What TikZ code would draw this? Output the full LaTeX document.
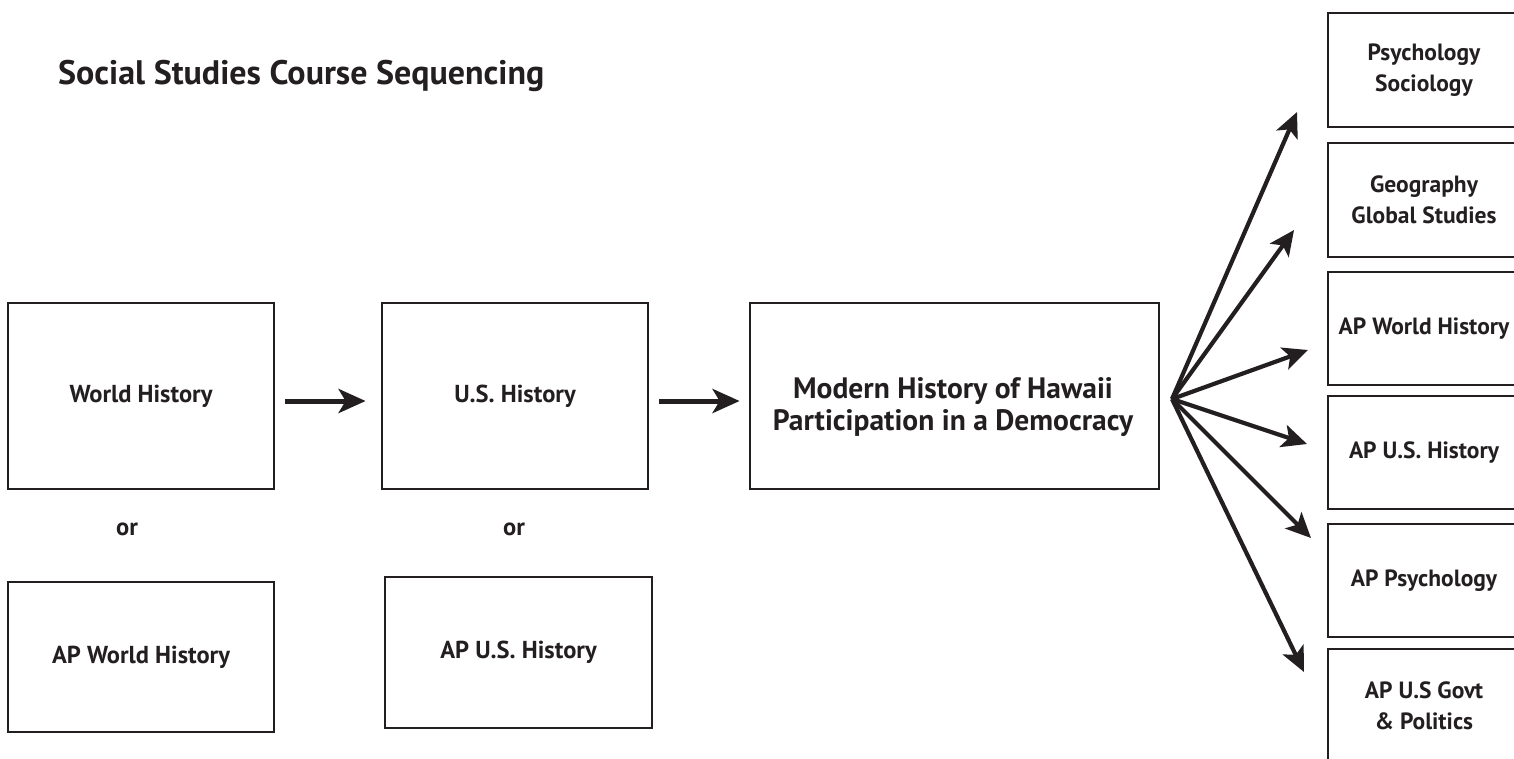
\documentclass[tikz,border=0pt]{standalone}
\usepackage{fontspec}
\setmainfont{PT Sans}
\usetikzlibrary{arrows.meta}
\definecolor{ink}{HTML}{231F20}
\begin{document}
\begin{tikzpicture}[x=1pt,y=-1pt,
  box/.style={draw=ink, line width=2.8pt, rectangle, inner sep=0pt, text=ink, align=center},
  lbox/.style={box, minimum width=266pt, font=\bfseries\fontsize{24.5}{30}\selectfont},
  rbox/.style={box, minimum width=192pt, minimum height=114pt, font=\bfseries\fontsize{23.5}{31}\selectfont},
  lbl/.style={text=ink, inner sep=0pt, font=\bfseries\fontsize{24.5}{30}\selectfont},
  harr/.style={draw=ink, line width=5pt, -{Stealth[length=27pt,width=24pt,inset=7pt]}},
  farr/.style={draw=ink, line width=4.2pt, -{Stealth[length=25pt,width=23pt,inset=6pt]}}
]
\clip (0,0) rectangle (1514,758);
\useasboundingbox (0,0) rectangle (1514,758);
\fill[white] (0,0) rectangle (1514,758);

\node[anchor=base west, inner sep=0pt, text=ink, font=\bfseries\fontsize{34}{40}\selectfont] (title) at (58,84) {Social Studies Course Sequencing};

\node[lbox, minimum height=186pt] (wh) at (141,396) {World History};
\node[lbox, minimum height=150pt] (apwh) at (141,657) {AP World History};
\node[lbl] (or1) at (127,529) {or};
\node[lbox, minimum height=186pt] (us) at (515,396) {U.S. History};
\node[lbox, minimum height=151pt, minimum width=267pt] (apus) at (518.5,652.5) {AP U.S. History};
\node[lbl] (or2) at (514,529) {or};
\node[box, minimum width=409pt, minimum height=186pt] (mod) at (954.5,396) {};
\node[text=ink, align=center, inner sep=0pt, font=\bfseries\fontsize{29.5}{32}\selectfont] (modt) at (953,407) {Modern History of Hawaii\\Participation in a Democracy};

\node[rbox] (r1) at (1424,70) {Psychology\\Sociology};
\node[rbox] (r2) at (1424,200) {Geography\\Global Studies};
\node[rbox, minimum height=113pt] (r3) at (1424,328.5) {AP World History};
\node[rbox, minimum height=113pt] (r4) at (1424,452.5) {AP U.S. History};
\node[rbox, minimum height=113pt] (r5) at (1424,580.5) {AP Psychology};
\node[rbox, minimum height=114pt] (r6) at (1424,706) {AP U.S Govt\\\& Politics};

\draw[harr, shorten <=10pt, shorten >=15pt] ([yshift=-5pt]wh.east) -- ([yshift=-5pt]us.west);
\draw[harr, shorten <=10pt, shorten >=9pt] ([yshift=-5pt]us.east) -- ([yshift=-5pt]mod.west);

\coordinate (fan) at (1172,399);
\coordinate (t1) at (1297,112);
\coordinate (t2) at (1294,230);
\coordinate (t3) at (1308,350);
\coordinate (t4) at (1307,444);
\coordinate (t5) at (1311,538);
\coordinate (t6) at (1304,672);
\foreach \t in {t1,t2,t3,t4,t5,t6}{\draw[farr] (fan) -- (\t);}
\end{tikzpicture}
\end{document}
